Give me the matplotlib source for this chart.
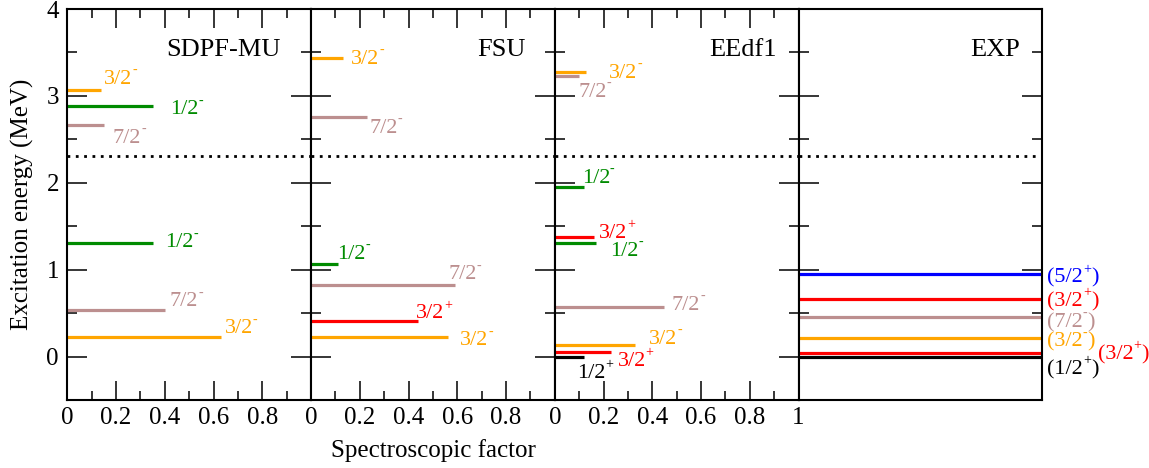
import matplotlib
matplotlib.use('Agg')
import matplotlib.pyplot as plt
from matplotlib.ticker import MultipleLocator, NullLocator

plt.rcParams['font.family'] = ['Liberation Serif', 'DejaVu Serif']

# ---------------- data ----------------
panel_names = ['SDPF-MU', 'FSU', 'EEdf1', 'EXP']

sdpf_energy = [3.07, 2.88, 2.67, 1.31, 0.54, 0.22]
sdpf_sf = [0.14, 0.35, 0.15, 0.35, 0.40, 0.63]
sdpf_jpi = ['3/2-', '1/2-', '7/2-', '1/2-', '7/2-', '3/2-']

fsu_energy = [3.44, 2.76, 1.07, 0.82, 0.41, 0.22]
fsu_sf = [0.13, 0.23, 0.11, 0.59, 0.44, 0.56]
fsu_jpi = ['3/2-', '7/2-', '1/2-', '7/2-', '3/2+', '3/2-']

eedf_energy = [3.27, 3.23, 1.95, 1.38, 1.31, 0.57, 0.13, 0.05, 0.00]
eedf_sf = [0.13, 0.10, 0.12, 0.16, 0.17, 0.45, 0.33, 0.23, 0.12]
eedf_jpi = ['3/2-', '7/2-', '1/2-', '3/2+', '1/2-', '7/2-', '3/2-', '3/2+', '1/2+']

exp_energy = [0.95, 0.66, 0.46, 0.21, 0.045, 0.00]
exp_jpi = ['5/2+', '3/2+', '7/2-', '3/2-', '3/2+', '1/2+']

threshold = 2.31

# ---------------- styles / layout ----------------
colors = {'3/2-': '#FFA500', '1/2-': '#008B00', '7/2-': '#BC8F8F',
          '3/2+': '#FF0000', '1/2+': '#000000', '5/2+': '#0000FF'}

sdpf_lab = [(0.151, 3.19), (0.42, 2.84), (0.186, 2.51), (0.40, 1.31), (0.42, 0.63), (0.645, 0.32)]
fsu_lab = [(0.164, 3.42), (0.24, 2.63), (0.106, 1.18), (0.563, 0.94), (0.432, 0.49), (0.611, 0.18)]
eedf_lab = [(0.223, 3.26), (0.097, 3.04), (0.11, 2.05), (0.18, 1.42), (0.226, 1.21),
            (0.48, 0.59), (0.387, 0.20), (0.257, -0.06), (0.092, -0.19)]
exp_lab = [(1.02, 0.90), (1.02, 0.63), (1.02, 0.39), (1.02, 0.17), (1.228, 0.02), (1.02, -0.15)]
title_x = [0.877, 0.881, 0.909, 0.909]

LABEL_FS = 16
SUP_FS = 10


def put_label(ax, x, y, j, color, paren=False):
    base = j[:-1]
    sup = j[-1]
    if paren:
        base = '(' + base
    t = ax.text(x, y, base, color=color, fontsize=LABEL_FS, ha='left', va='center',
                clip_on=False)
    s = ax.annotate(sup, xy=(1.0, 0.62), xycoords=t, color=color, fontsize=SUP_FS,
                    ha='left', va='bottom', annotation_clip=False)
    if paren:
        ax.annotate(')', xy=(1.0, 0.0), xycoords=(s, t), color=color, fontsize=LABEL_FS,
                    ha='left', va='bottom', annotation_clip=False)


fig = plt.figure(figsize=(11.49, 4.68), dpi=100)
gs = fig.add_gridspec(1, 4, left=67.3 / 1149, right=1042.3 / 1149,
                      bottom=68 / 468, top=459 / 468, wspace=0)
axes = [fig.add_subplot(gs[0, i]) for i in range(4)]

lw_level = 2.3
for i, ax in enumerate(axes):
    ax.set_xlim(0, 1)
    ax.set_ylim(-0.5, 4)
    for sp in ax.spines.values():
        sp.set_linewidth(1.5)
    ax.yaxis.set_major_locator(MultipleLocator(1))
    ax.yaxis.set_minor_locator(MultipleLocator(0.5))
    ax.tick_params(axis='y', which='both', direction='in', left=True, right=True, width=1.1)
    ax.tick_params(axis='y', which='major', length=14.5, labelsize=18, pad=6)
    ax.tick_params(axis='y', which='minor', length=7.2)
    if i > 0:
        ax.tick_params(axis='y', which='both', labelleft=False)
    if i < 3:
        ax.xaxis.set_minor_locator(MultipleLocator(0.1))
        ax.tick_params(axis='x', which='both', direction='in', top=True, bottom=True, width=1.1)
        ax.tick_params(axis='x', which='major', length=13.5, labelsize=18, pad=5)
        ax.tick_params(axis='x', which='minor', length=6.5)
        all_ticks = [0, 0.2, 0.4, 0.6, 0.8, 1.0]
        shown = all_ticks[:-1] if i < 2 else all_ticks
        ax.set_xticks(all_ticks)
        ax.set_xticklabels([('%g' % t) if t in shown else '' for t in all_ticks])
    else:
        ax.xaxis.set_major_locator(NullLocator())
        ax.xaxis.set_minor_locator(NullLocator())
    ax.axhline(threshold, color='black', lw=2.0, linestyle=(0, (1, 2)))
    ax.text(title_x[i], 3.53, panel_names[i], ha='right', va='center', fontsize=19)

model_data = [(sdpf_energy, sdpf_sf, sdpf_jpi, sdpf_lab),
              (fsu_energy, fsu_sf, fsu_jpi, fsu_lab),
              (eedf_energy, eedf_sf, eedf_jpi, eedf_lab)]

for ax, (en, sf, jp, lab) in zip(axes[:3], model_data):
    for e, f, j, (lx, ly) in zip(en, sf, jp, lab):
        ax.hlines(e, 0, f, color=colors[j], lw=lw_level, capstyle='butt')
        put_label(ax, lx, ly, j, colors[j])

ax = axes[3]
for e, j, (lx, ly) in zip(exp_energy, exp_jpi, exp_lab):
    ax.hlines(e, 0, 1, color=colors[j], lw=lw_level, capstyle='butt')
    put_label(ax, lx, ly, j, colors[j], paren=True)

fig.text(22 / 1149, 1 - 204.5 / 468, 'Excitation energy (MeV)', rotation=90,
         ha='center', va='center', fontsize=18)
fig.text(433 / 1149, 1 - 451 / 468, 'Spectroscopic factor', ha='center', va='center', fontsize=18)

fig.savefig('out.png', dpi=100)
